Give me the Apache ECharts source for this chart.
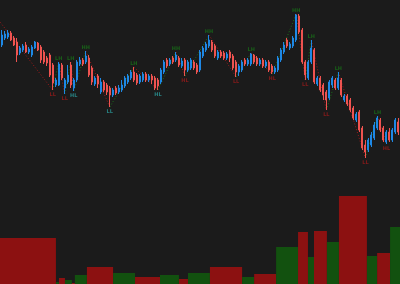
<!DOCTYPE html>
<html><head><meta charset="utf-8">
<script src="https://cdn.jsdelivr.net/npm/echarts@6/dist/echarts.min.js"></script>
<style>html,body{margin:0;padding:0;background:#1b1b1b}#c{width:400px;height:284px}</style>
</head><body><div id="c"></div>
<script>
// Candle OHLC values (price units)
const open  = [255,262,263,267,262,258,247,250,255,248,245,252,257,253,248,242,245,235,215,215,235,212,218,235,212,220,236,240,238,242,232,216,224,208,218,215,212,205,212,208,210,214,218,222,228,225,218,220,226,220,224,222,220,218,228,240,236,242,240,242,234,240,230,232,238,235,230,244,250,254,258,254,242,248,247,242,248,244,238,228,230,240,236,236,245,242,236,240,234,238,234,228,230,240,248,260,252,254,260,284,270,238,222,238,250,216,222,215,208,202,215,220,212,220,200,204,200,192,180,188,172,155,150,155,162,172,180,172,158,168,160,168,178];
const close = [265,266,267,260,255,245,252,254,248,251,253,258,250,240,238,237,225,217,220,236,222,220,225,215,220,238,240,236,244,225,218,222,216,218,210,208,205,210,207,212,215,222,224,228,220,217,224,226,220,224,220,212,214,230,238,234,240,238,245,235,239,230,238,240,232,228,248,252,256,260,250,244,248,244,242,246,242,232,228,234,238,236,240,246,238,236,240,234,238,230,228,232,242,250,255,254,256,262,285,268,238,225,238,252,218,222,210,205,200,218,222,212,222,205,204,196,190,182,186,170,152,148,160,165,175,182,170,160,168,160,170,180,168];
const low   = [253,260,261,259,254,238,245,248,247,246,243,251,249,237,236,234,223,210,213,214,220,206,216,212,209,218,234,234,236,223,215,214,212,206,208,205,193,203,205,206,208,212,216,220,218,215,216,218,218,218,216,210,210,216,226,232,234,236,238,233,232,224,228,230,230,226,228,242,248,252,248,242,240,242,240,240,238,230,223,224,228,234,234,234,236,234,234,232,232,228,226,226,228,238,246,252,250,252,258,266,236,220,220,236,216,214,208,200,190,200,212,210,210,203,198,194,188,180,178,168,150,142,148,153,160,170,168,158,156,158,158,166,165];
const high  = [270,269,270,269,264,262,254,256,258,253,255,259,258,255,250,244,247,237,222,238,237,222,235,238,222,240,243,242,249,245,234,224,226,222,220,217,214,212,214,215,220,224,226,230,233,227,226,228,228,226,226,224,222,232,240,242,242,244,248,244,242,242,240,242,240,237,250,254,258,265,260,256,250,250,249,248,250,246,240,236,240,242,242,247,246,244,242,242,240,240,236,234,244,252,258,262,258,264,286,286,272,240,240,260,252,224,224,217,210,220,224,222,228,222,206,206,202,194,188,190,174,160,162,168,178,184,182,174,170,172,172,182,182];
const categories = open.map((_, i) => 'T' + (i + 1));

// Swing points
const swingIndex = [-1,17,19,21,23,24,28,36,44,52,58,61,69,78,83,90,98,101,103,108,112,121,125,128];
const swingPrice = [280,210,238,206,238,209,249,193,233,210,248,224,265,223,247,226,286,220,260,190,228,142,184,156];
const swingLabel = ['', 'LL','LH','LL','LH','HL','HH','LL','LH','HL','HH','HL','HH','LL','LH','HL','HH','LL','LH','LL','LH','LL','LH','HL'];
const swingCyan  = [0,0,0,0,0,1,0,1,0,1,0,0,0,0,0,0,0,0,0,0,0,0,0,0];

// Volume per swing leg (edges in candle units)
const legEdges  = [0,18.6,19.6,21.6,23.9,24.9,28.9,37.6,44.9,53.2,59.5,62.5,69.8,80.5,84.5,91.8,99.1,102.4,104.4,108.7,112.7,122.0,125.4,129.7,133];
const legVolume = [46,2,6,4,1,9,17,11,7,9,5,11,17,7,10,37,52,27,53,42,88,28,31,57];
const legUp     = [0,1,0,1,0,1,0,1,0,1,0,1,0,1,0,1,0,1,0,1,0,1,0,1];

const candleData = open.map((o, i) => [o, close[i], low[i], high[i]]);
const volData = legVolume.map((v, i) => [legEdges[i], legEdges[i + 1], v, legUp[i]]);

const segs = [];
for (let i = 1; i < swingIndex.length; i++) {
  const down = swingPrice[i] < swingPrice[i - 1];
  segs.push({
    coords: [[swingIndex[i - 1], swingPrice[i - 1]], [swingIndex[i], swingPrice[i]]],
    lineStyle: { color: down ? 'rgba(175,25,25,0.9)' : 'rgba(25,125,25,0.9)' }
  });
}
const labelData = [];
for (let i = 0; i < swingIndex.length; i++) {
  if (!swingLabel[i]) continue;
  const isHigh = swingLabel[i] === 'HH' || swingLabel[i] === 'LH';
  const col = isHigh ? '#187018' : (swingCyan[i] ? '#2a9c9c' : '#9c1a1a');
  labelData.push({
    name: swingLabel[i],
    value: [swingIndex[i], swingPrice[i]],
    label: { position: isHigh ? 'top' : 'bottom', color: col, distance: isHigh ? 1 : 2 }
  });
}

const chart = echarts.init(document.getElementById('c'));
chart.setOption({
  backgroundColor: '#1b1b1b',
  animation: false,
  grid: [
    { left: 0, right: 0, top: 0, bottom: 0 },
    { left: 0, right: 0, top: 0, bottom: 0 }
  ],
  xAxis: [
    { type: 'category', data: categories, gridIndex: 0, show: false, boundaryGap: true },
    { type: 'value', gridIndex: 1, min: 0, max: 133, show: false }
  ],
  yAxis: [
    { type: 'value', gridIndex: 0, min: 16, max: 300, show: false, splitLine: { show: false } },
    { type: 'value', gridIndex: 1, min: 0, max: 284, show: false, splitLine: { show: false } }
  ],
  series: [
    {
      type: 'custom', xAxisIndex: 1, yAxisIndex: 1, data: volData,
      encode: { x: [0, 1], y: 2 },
      renderItem: function (params, api) {
        const p0 = api.coord([api.value(0), 0]);
        const p1 = api.coord([api.value(1), api.value(2)]);
        return {
          type: 'rect',
          shape: { x: p0[0], y: p1[1], width: p1[0] - p0[0], height: p0[1] - p1[1] },
          style: { fill: api.value(3) === 1 ? '#12510f' : '#8c1111' }
        };
      }
    },
    {
      type: 'candlestick', xAxisIndex: 0, yAxisIndex: 0, data: candleData,
      barWidth: 1.5,
      itemStyle: {
        color: '#1e88e5', color0: '#ef5350',
        borderColor: '#1e88e5', borderColor0: '#ef5350', borderWidth: 1
      }
    },
    {
      type: 'lines', coordinateSystem: 'cartesian2d', xAxisIndex: 0, yAxisIndex: 0,
      data: segs, silent: true,
      lineStyle: { width: 1, type: [1, 2], opacity: 1 }
    },
    {
      type: 'scatter', xAxisIndex: 0, yAxisIndex: 0, data: labelData,
      symbolSize: 0, silent: true,
      label: {
        show: true, formatter: '{b}', fontSize: 5, fontWeight: 'bold',
        fontFamily: 'DejaVu Sans'
      }
    }
  ]
});
</script></body></html>
